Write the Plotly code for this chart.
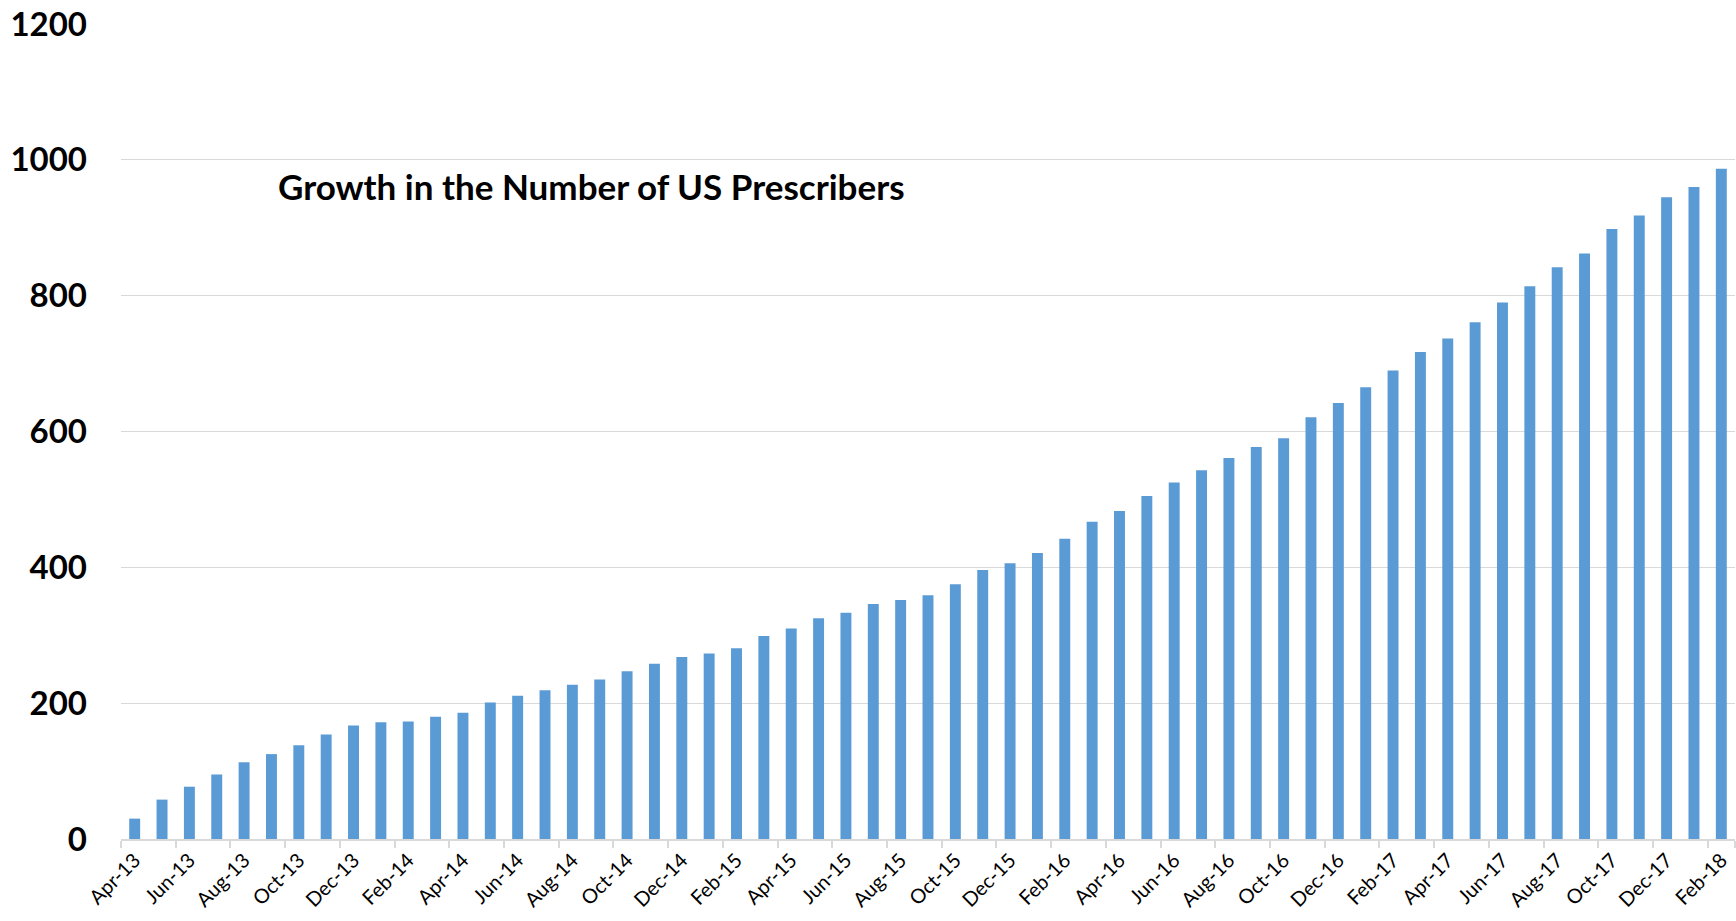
import plotly.graph_objects as go

months = [
    "Apr-13", "May-13", "Jun-13", "Jul-13", "Aug-13", "Sep-13", "Oct-13", "Nov-13", "Dec-13",
    "Jan-14", "Feb-14", "Mar-14", "Apr-14", "May-14", "Jun-14", "Jul-14", "Aug-14", "Sep-14",
    "Oct-14", "Nov-14", "Dec-14", "Jan-15", "Feb-15", "Mar-15", "Apr-15", "May-15", "Jun-15",
    "Jul-15", "Aug-15", "Sep-15", "Oct-15", "Nov-15", "Dec-15", "Jan-16", "Feb-16", "Mar-16",
    "Apr-16", "May-16", "Jun-16", "Jul-16", "Aug-16", "Sep-16", "Oct-16", "Nov-16", "Dec-16",
    "Jan-17", "Feb-17", "Mar-17", "Apr-17", "May-17", "Jun-17", "Jul-17", "Aug-17", "Sep-17",
    "Oct-17", "Nov-17", "Dec-17", "Jan-18", "Feb-18",
]

prescribers = [
    30, 58, 77, 95, 113, 125, 138, 154, 167,
    172, 173, 180, 186, 201, 211, 219, 227, 235,
    247, 258, 268, 273, 281, 299, 310, 325, 333,
    346, 352, 359, 375, 396, 406, 421, 442, 467,
    483, 505, 525, 543, 561, 577, 590, 621, 642,
    665, 690, 717, 737, 761, 790, 814, 842, 862,
    898, 918, 945, 960, 987,
]

tick_labels = months[::2]
y_ticks = [0, 200, 400, 600, 800, 1000, 1200]
title_text = "Growth in the Number of US Prescribers"

fig = go.Figure()
fig.add_trace(go.Bar(
    x=months,
    y=prescribers,
    marker=dict(color="#5B9BD5", line=dict(width=0)),
))

fig.update_layout(
    width=1736,
    height=921,
    margin=dict(l=121, r=1, t=24, b=82),
    paper_bgcolor="white",
    plot_bgcolor="white",
    bargap=0.6,
    showlegend=False,
    font=dict(family="Lato", color="black"),
    xaxis=dict(
        type="category",
        tickmode="array",
        tickvals=tick_labels,
        ticktext=tick_labels,
        tickson="boundaries",
        ticks="outside",
        ticklen=7,
        tickwidth=1.5,
        tickcolor="#D9D9D9",
        tickangle=-45,
        tickfont=dict(family="Lato", size=20, color="black"),
        showline=True,
        linecolor="#D9D9D9",
        linewidth=1.5,
        showgrid=False,
    ),
    yaxis=dict(
        range=[0, 1200],
        tickmode="array",
        tickvals=y_ticks,
        ticktext=[str(v) for v in y_ticks],
        tickfont=dict(family="Lato", size=33, color="black", weight="bold"),
        ticklabelstandoff=33,
        showgrid=True,
        gridcolor="#D9D9D9",
        gridwidth=1.3,
        zeroline=False,
        showline=False,
    ),
    annotations=[dict(
        text="<b>" + title_text + "</b>",
        xref="paper", yref="paper",
        x=0.096, y=0.801,
        xanchor="left", yanchor="middle",
        showarrow=False,
        font=dict(family="Lato", size=35, color="black"),
    )],
)

fig.write_html("out.html")
